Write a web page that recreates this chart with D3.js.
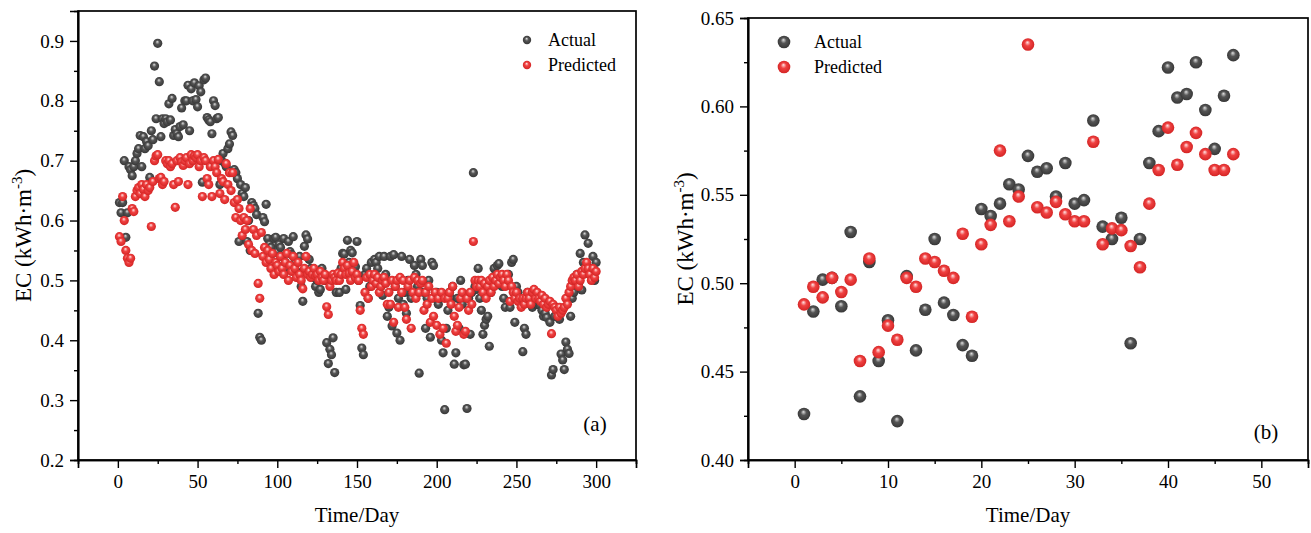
<html>
<head>
<meta charset="utf-8">
<script src="https://d3js.org/d3.v7.min.js"></script>
<style>
body { margin: 0; background: #fff; }
text { font-family: "Liberation Serif", "Times New Roman", serif; }
</style>
</head>
<body>
<div id="chart"></div>
<script>
// panel (a): days 1..300
const leftActual = [
  0.630, 0.613, 0.630, 0.700, 0.572, 0.613, 0.690, 0.685, 0.675, 0.690,
  0.700, 0.712, 0.720, 0.742, 0.690, 0.740, 0.720, 0.732, 0.725, 0.672,
  0.750, 0.735, 0.858, 0.770, 0.896, 0.832, 0.740, 0.770, 0.762, 0.770,
  0.765, 0.795, 0.768, 0.804, 0.742, 0.752, 0.745, 0.740, 0.757, 0.788,
  0.760, 0.800, 0.800, 0.826, 0.750, 0.820, 0.800, 0.830, 0.802, 0.790,
  0.825, 0.815, 0.664, 0.835, 0.838, 0.772, 0.768, 0.765, 0.745, 0.800,
  0.792, 0.770, 0.772, 0.660, 0.700, 0.712, 0.696, 0.690, 0.720, 0.728,
  0.748, 0.742, 0.685, 0.680, 0.670, 0.565, 0.660, 0.645, 0.640, 0.655,
  0.565, 0.600, 0.550, 0.630, 0.625, 0.620, 0.610, 0.445, 0.405, 0.400,
  0.605, 0.598, 0.627, 0.570, 0.560, 0.555, 0.545, 0.570, 0.572, 0.548,
  0.560, 0.555, 0.540, 0.570, 0.530, 0.520, 0.565, 0.548, 0.543, 0.573,
  0.530, 0.515, 0.505, 0.540, 0.490, 0.465, 0.557, 0.576, 0.569, 0.535,
  0.520, 0.515, 0.505, 0.490, 0.500, 0.480, 0.485, 0.520, 0.510, 0.500,
  0.396, 0.361, 0.385, 0.376, 0.404, 0.346, 0.480, 0.510, 0.480, 0.520,
  0.545, 0.544, 0.485, 0.567, 0.530, 0.550, 0.546, 0.520, 0.523, 0.565,
  0.500, 0.458, 0.387, 0.376, 0.510, 0.520, 0.470, 0.490, 0.530, 0.500,
  0.535, 0.530, 0.520, 0.540, 0.490, 0.475, 0.540, 0.510, 0.440, 0.455,
  0.540, 0.424, 0.543, 0.490, 0.412, 0.470, 0.400, 0.540, 0.460, 0.480,
  0.445, 0.500, 0.535, 0.470, 0.480, 0.525, 0.510, 0.490, 0.345, 0.535,
  0.525, 0.480, 0.420, 0.470, 0.500, 0.405, 0.530, 0.525, 0.470, 0.480,
  0.460, 0.470, 0.400, 0.379, 0.284, 0.420, 0.450, 0.480, 0.470, 0.490,
  0.360, 0.379, 0.470, 0.420, 0.500, 0.460, 0.359, 0.360, 0.286, 0.470,
  0.410, 0.480, 0.680, 0.490, 0.485, 0.520, 0.470, 0.450, 0.410, 0.425,
  0.435, 0.440, 0.390, 0.480, 0.500, 0.520, 0.510, 0.525, 0.528, 0.500,
  0.490, 0.470, 0.455, 0.500, 0.510, 0.455, 0.530, 0.535, 0.430, 0.490,
  0.480, 0.470, 0.460, 0.381, 0.420, 0.410, 0.480, 0.470, 0.460, 0.455,
  0.470, 0.460, 0.460, 0.462, 0.458, 0.450, 0.440, 0.445, 0.438, 0.460,
  0.430, 0.342, 0.351, 0.440, 0.455, 0.440, 0.435, 0.377, 0.367, 0.351,
  0.397, 0.385, 0.378, 0.440, 0.470, 0.480, 0.500, 0.510, 0.495, 0.545,
  0.484, 0.530, 0.576, 0.520, 0.562, 0.510, 0.520, 0.540, 0.500, 0.530
];
const leftPredicted = [
  0.573, 0.565, 0.640, 0.600, 0.550, 0.537, 0.530, 0.537, 0.620, 0.615,
  0.640, 0.650, 0.655, 0.645, 0.660, 0.652, 0.640, 0.660, 0.650, 0.655,
  0.590, 0.665, 0.700, 0.708, 0.710, 0.670, 0.672, 0.660, 0.665, 0.700,
  0.695, 0.700, 0.690, 0.695, 0.660, 0.622, 0.700, 0.665, 0.705, 0.698,
  0.692, 0.700, 0.705, 0.660, 0.695, 0.710, 0.700, 0.708, 0.705, 0.710,
  0.690, 0.700, 0.640, 0.705, 0.700, 0.670, 0.660, 0.690, 0.640, 0.700,
  0.690, 0.680, 0.702, 0.645, 0.670, 0.665, 0.635, 0.695, 0.660, 0.680,
  0.650, 0.680, 0.630, 0.605, 0.635, 0.620, 0.600, 0.575, 0.605, 0.585,
  0.600, 0.560, 0.620, 0.550, 0.585, 0.545, 0.575, 0.495, 0.470, 0.580,
  0.540, 0.555, 0.530, 0.550, 0.535, 0.520, 0.545, 0.510, 0.530, 0.525,
  0.515, 0.540, 0.520, 0.510, 0.530, 0.545, 0.500, 0.525, 0.515, 0.540,
  0.520, 0.505, 0.530, 0.510, 0.500, 0.486, 0.520, 0.540, 0.510, 0.515,
  0.505, 0.510, 0.520, 0.508, 0.510, 0.500, 0.515, 0.505, 0.500, 0.510,
  0.456, 0.443, 0.490, 0.500, 0.510, 0.505, 0.500, 0.512, 0.500, 0.510,
  0.530, 0.520, 0.510, 0.525, 0.512, 0.500, 0.515, 0.530, 0.505, 0.510,
  0.500, 0.450, 0.420, 0.410, 0.480, 0.505, 0.470, 0.510, 0.490, 0.500,
  0.510, 0.495, 0.505, 0.480, 0.490, 0.500, 0.505, 0.495, 0.460, 0.480,
  0.460, 0.500, 0.430, 0.490, 0.500, 0.455, 0.505, 0.480, 0.500, 0.455,
  0.435, 0.490, 0.500, 0.420, 0.480, 0.505, 0.470, 0.500, 0.480, 0.495,
  0.500, 0.450, 0.480, 0.460, 0.490, 0.430, 0.470, 0.440, 0.480, 0.425,
  0.470, 0.410, 0.480, 0.420, 0.470, 0.395, 0.470, 0.480, 0.460, 0.490,
  0.440, 0.415, 0.425, 0.455, 0.470, 0.480, 0.410, 0.415, 0.470, 0.450,
  0.480, 0.460, 0.565, 0.500, 0.490, 0.500, 0.490, 0.500, 0.480, 0.495,
  0.470, 0.490, 0.500, 0.480, 0.505, 0.490, 0.500, 0.510, 0.495, 0.505,
  0.510, 0.500, 0.490, 0.510, 0.500, 0.465, 0.490, 0.480, 0.470, 0.480,
  0.465, 0.470, 0.455, 0.470, 0.460, 0.470, 0.480, 0.470, 0.460, 0.480,
  0.485, 0.470, 0.480, 0.470, 0.465, 0.475, 0.460, 0.470, 0.455, 0.460,
  0.465, 0.411, 0.460, 0.455, 0.450, 0.440, 0.455, 0.445, 0.450, 0.455,
  0.470, 0.460, 0.480, 0.490, 0.500, 0.505, 0.500, 0.510, 0.490, 0.500,
  0.515, 0.510, 0.520, 0.530, 0.520, 0.510, 0.500, 0.520, 0.505, 0.515
];

// panel (b): days 1..47
const rightActual = [
  0.426, 0.484, 0.502, 0.503, 0.487, 0.529, 0.436, 0.512, 0.456, 0.479,
  0.422, 0.504, 0.462, 0.485, 0.525, 0.489, 0.482, 0.465, 0.459, 0.542,
  0.538, 0.545, 0.556, 0.553, 0.572, 0.563, 0.565, 0.549, 0.568, 0.545,
  0.547, 0.592, 0.532, 0.525, 0.537, 0.466, 0.525, 0.568, 0.586, 0.622,
  0.605, 0.607, 0.625, 0.598, 0.576, 0.606, 0.629
];
const rightPredicted = [
  0.488, 0.498, 0.492, 0.503, 0.495, 0.502, 0.456, 0.514, 0.461, 0.476,
  0.468, 0.503, 0.498, 0.514, 0.512, 0.507, 0.503, 0.528, 0.481, 0.522,
  0.533, 0.575, 0.535, 0.549, 0.635, 0.543, 0.540, 0.546, 0.539, 0.535,
  0.535, 0.580, 0.522, 0.531, 0.530, 0.521, 0.509, 0.545, 0.564, 0.588,
  0.567, 0.577, 0.585, 0.573, 0.564, 0.564, 0.573
];

const seriesNames = ["Actual", "Predicted"];
const leftXTicks = [0, 50, 100, 150, 200, 250, 300];
const leftYTicks = [0.2, 0.3, 0.4, 0.5, 0.6, 0.7, 0.8, 0.9];
const rightXTicks = [0, 10, 20, 30, 40, 50];
const rightYTicks = [0.40, 0.45, 0.50, 0.55, 0.60, 0.65];

const W = 1311, H = 533;
const svg = d3.select("#chart").append("svg")
  .attr("width", W).attr("height", H);

// sphere-like gradients
const defs = svg.append("defs");
function sphere(id, light, mid, edge) {
  const g = defs.append("radialGradient").attr("id", id)
    .attr("cx", "0.5").attr("cy", "0.5").attr("r", "0.55")
    .attr("fx", "0.45").attr("fy", "0.32");
  g.append("stop").attr("offset", "0%").attr("stop-color", light);
  g.append("stop").attr("offset", "40%").attr("stop-color", mid);
  g.append("stop").attr("offset", "100%").attr("stop-color", edge);
}
sphere("gGray", "#e0e0e0", "#555555", "#333333");
sphere("gRed", "#ffe6e6", "#f04242", "#d02020");
const fills = ["url(#gGray)", "url(#gRed)"];

function panel(o) {
  const g = svg.append("g");
  const x = d3.scaleLinear().domain(o.xDomain).range([o.left, o.right]);
  const y = d3.scaleLinear().domain(o.yDomain).range([o.bottom, o.top]);

  // points: actual under predicted
  [o.actual, o.predicted].forEach((vals, k) => {
    g.append("g").selectAll("circle")
      .data(vals)
      .enter()
      .append("circle")
      .attr("cx", (d, i) => x(i + 1))
      .attr("cy", d => y(d))
      .attr("r", o.r)
      .attr("fill", fills[k]);
  });

  // frame
  g.append("rect")
    .attr("x", o.left).attr("y", o.top)
    .attr("width", o.right - o.left).attr("height", o.bottom - o.top)
    .attr("fill", "none").attr("stroke", "#000").attr("stroke-width", 1.7);

  const xMinor = d3.axisBottom(x).tickValues(o.xMinor).tickSize(4).tickFormat("");
  const yMinor = d3.axisLeft(y).tickValues(o.yMinor).tickSize(4).tickFormat("");
  const xAxis = d3.axisBottom(x).tickValues(o.xTicks).tickSize(8).tickPadding(7).tickFormat(d3.format("d"));
  const yAxis = d3.axisLeft(y).tickValues(o.yTicks).tickSize(8).tickPadding(6).tickFormat(d3.format(o.yFmt));

  [xMinor, xAxis].forEach(a => {
    g.append("g").attr("transform", "translate(0," + o.bottom + ")").call(a);
  });
  [yMinor, yAxis].forEach(a => {
    g.append("g").attr("transform", "translate(" + o.left + ",0)").call(a);
  });
  g.selectAll(".domain").attr("stroke-width", 1.7);
  g.selectAll(".tick line").attr("stroke-width", 1.4);
  g.selectAll(".tick text")
    .attr("font-family", "Liberation Serif")
    .attr("font-size", 19)
    .attr("fill", "#000");

  // axis titles
  g.append("text")
    .attr("x", (o.left + o.right) / 2).attr("y", 522)
    .attr("text-anchor", "middle")
    .attr("font-size", 21)
    .text("Time/Day");
  const yt = g.append("text")
    .attr("transform", "translate(" + o.yTitleX + "," + ((o.top + o.bottom) / 2) + ") rotate(-90)")
    .attr("text-anchor", "middle")
    .attr("font-size", 23);
  yt.append("tspan").text("EC (kWh·m");
  yt.append("tspan").attr("font-size", 15).attr("dy", -9).text("-3");
  yt.append("tspan").attr("dy", 9).text(")");

  // panel letter
  g.append("text")
    .attr("x", o.tag[0]).attr("y", o.tag[1])
    .attr("text-anchor", "middle")
    .attr("font-size", 21)
    .text(o.tagText);

  // legend
  seriesNames.forEach((name, k) => {
    const ly = o.legend[1] + k * 25;
    g.append("circle")
      .attr("cx", o.legend[0]).attr("cy", ly)
      .attr("r", o.legendR).attr("fill", fills[k]);
    g.append("text")
      .attr("x", o.legend[0] + o.legendGap).attr("y", ly + 6)
      .attr("font-size", 18)
      .text(name);
  });
}

panel({
  actual: leftActual, predicted: leftPredicted,
  left: 78, right: 636, top: 11, bottom: 460,
  xDomain: [-25, 325], yDomain: [0.2, 0.95],
  xTicks: leftXTicks, yTicks: leftYTicks,
  xMinor: [25, 75, 125, 175, 225, 275],
  yMinor: [0.25, 0.35, 0.45, 0.55, 0.65, 0.75, 0.85],
  yFmt: ".1f", r: 4.6,
  yTitleX: 31,
  tag: [595, 431], tagText: "(a)",
  legend: [527, 40], legendR: 4.2, legendGap: 21
});

panel({
  actual: rightActual, predicted: rightPredicted,
  left: 748, right: 1308, top: 18, bottom: 460,
  xDomain: [-5, 55], yDomain: [0.40, 0.65],
  xTicks: rightXTicks, yTicks: rightYTicks,
  xMinor: [5, 15, 25, 35, 45],
  yMinor: [0.425, 0.475, 0.525, 0.575, 0.625],
  yFmt: ".2f", r: 6.3,
  yTitleX: 693,
  tag: [1266, 439], tagText: "(b)",
  legend: [784, 42], legendR: 6.3, legendGap: 30
});
</script>
</body>
</html>
